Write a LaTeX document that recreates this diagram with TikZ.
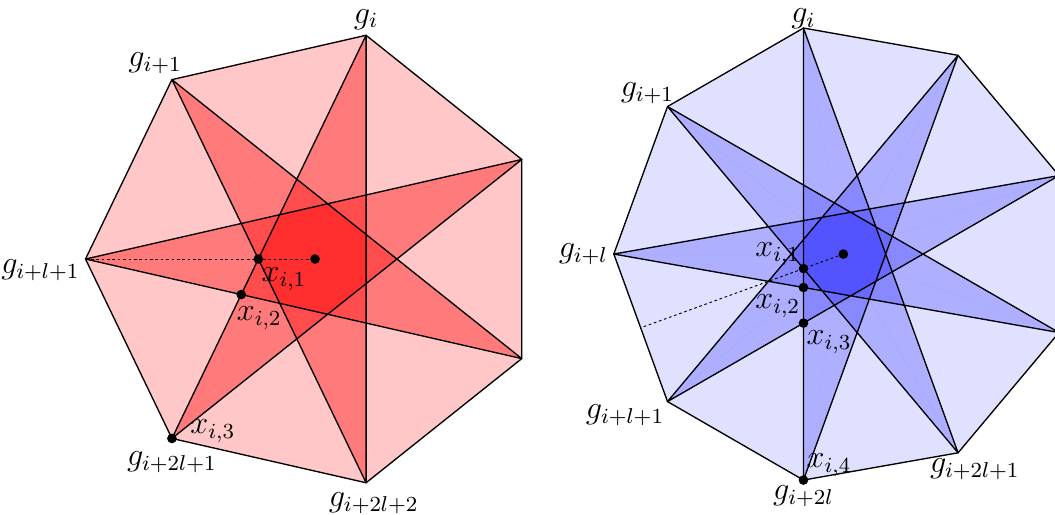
\documentclass[tikz,border=0pt]{standalone}
\usetikzlibrary{calc}

\begin{document}
\begin{tikzpicture}[
  font=\large,
  edge/.style={line width=0.5pt, line join=round},
  guide/.style={line width=0.35pt, dash pattern=on 1pt off 1pt},
  dot/.style={circle, fill=black, inner sep=0pt, minimum size=3.6pt},
  lbl/.style={inner sep=2pt}
]
\useasboundingbox (-4.118,-3.346) rectangle (9.673,3.386);

% heptagon, l=1
\coordinate (O) at (0,0);
\foreach \k in {0,...,6}
  \coordinate (R\k) at ($(O)+({77.1429+51.4286*\k}:3)$);

\fill[red, fill opacity=0.22] (R0) \foreach \k in {1,...,6}{ -- (R\k)} -- cycle;
\foreach \k [evaluate=\k as \j using {int(mod(\k+3,7))}] in {0,...,6}
  \fill[red, fill opacity=0.38] (O) -- (R\k) -- (R\j) -- cycle;

\draw[edge] (R0) \foreach \k in {1,...,6}{ -- (R\k)} -- cycle;
\draw[edge] (R0) \foreach \k [evaluate=\k as \j using {int(mod(3*\k,7))}] in {1,...,6}{ -- (R\j)} -- cycle;
\draw[guide] (R2) -- (O);

\coordinate (RX1) at (intersection of R0--R3 and O--R2);
\coordinate (RX2) at (intersection of R0--R3 and R2--R5);

\node[dot] (rc) at (O) {};
\node[dot] (rx1) at (RX1) {};
\node[dot] (rx2) at (RX2) {};
\node[dot] (rx3) at (R3) {};

\node[lbl, above] (rg0) at (R0) {$g_i$};
\node[lbl, above, xshift=-2.2mm] (rg1) at (R1) {$g_{i+1}$};
\node[lbl, left, yshift=-1.5mm] (rg2) at (R2) {$g_{i+l+1}$};
\node[lbl, below, yshift=-1mm] (rg3) at (R3) {$g_{i+2l+1}$};
\node[lbl, below, xshift=1mm, yshift=-0.5mm] (rg4) at (R4) {$g_{i+2l+2}$};
\node[lbl, below right, inner sep=1pt, yshift=-0.7mm] (rl1) at (RX1) {$x_{i,1}$};
\node[lbl, below right, inner sep=1pt, xshift=-1mm, yshift=-1.2mm] (rl2) at (RX2) {$x_{i,2}$};
\node[lbl, above right, inner sep=1pt, xshift=2mm, yshift=-1mm] (rl3) at (R3) {$x_{i,3}$};

% enneagon, l=2
\coordinate (Q) at (6.906,0.065);
\foreach \k in {0,...,8}
  \coordinate (B\k) at ($(Q)+({100+40*\k}:3)$);

\fill[blue, fill opacity=0.12] (B0) \foreach \k in {1,...,8}{ -- (B\k)} -- cycle;
\foreach \k [evaluate=\k as \j using {int(mod(\k+4,9))}] in {0,...,8}
  \fill[blue, fill opacity=0.22] (Q) -- (B\k) -- (B\j) -- cycle;

\draw[edge] (B0) \foreach \k in {1,...,8}{ -- (B\k)} -- cycle;
\draw[edge] (B0) \foreach \k [evaluate=\k as \j using {int(mod(4*\k,9))}] in {1,...,8}{ -- (B\j)} -- cycle;

\coordinate (M) at ($(B2)!0.5!(B3)$);
\draw[guide] (Q) -- (M);

\coordinate (BX1) at (intersection of B0--B4 and Q--M);
\coordinate (BX2) at (intersection of B0--B4 and B2--B6);
\coordinate (BX3) at (intersection of B0--B4 and B3--B7);

\node[dot] (bc) at (Q) {};
\node[dot] (bx1) at (BX1) {};
\node[dot] (bx2) at (BX2) {};
\node[dot] (bx3) at (BX3) {};
\node[dot] (bx4) at (B4) {};

\node[lbl, above, inner sep=0pt, yshift=-0.2mm] (bg0) at (B0) {$g_i$};
\node[lbl, above left, inner sep=1pt, xshift=1.3mm] (bg1) at (B1) {$g_{i+1}$};
\node[lbl, left] (bg2) at (B2) {$g_{i+l}$};
\node[lbl, below left, inner sep=1pt] (bg3) at (B3) {$g_{i+l+1}$};
\node[lbl, below] (bg4) at (B4) {$g_{i+2l}$};
\node[lbl, below, xshift=2.2mm] (bg5) at (B5) {$g_{i+2l+1}$};
\node[lbl, above left, inner sep=1pt] (bl1) at (BX1) {$x_{i,1}$};
\node[lbl, below left, inner sep=1pt, yshift=-0.5mm] (bl2) at (BX2) {$x_{i,2}$};
\node[lbl, below right, inner sep=1pt, yshift=-0.6mm] (bl3) at (BX3) {$x_{i,3}$};
\node[lbl, above right, inner sep=1pt] (bl4) at (B4) {$x_{i,4}$};
\end{tikzpicture}
\end{document}
